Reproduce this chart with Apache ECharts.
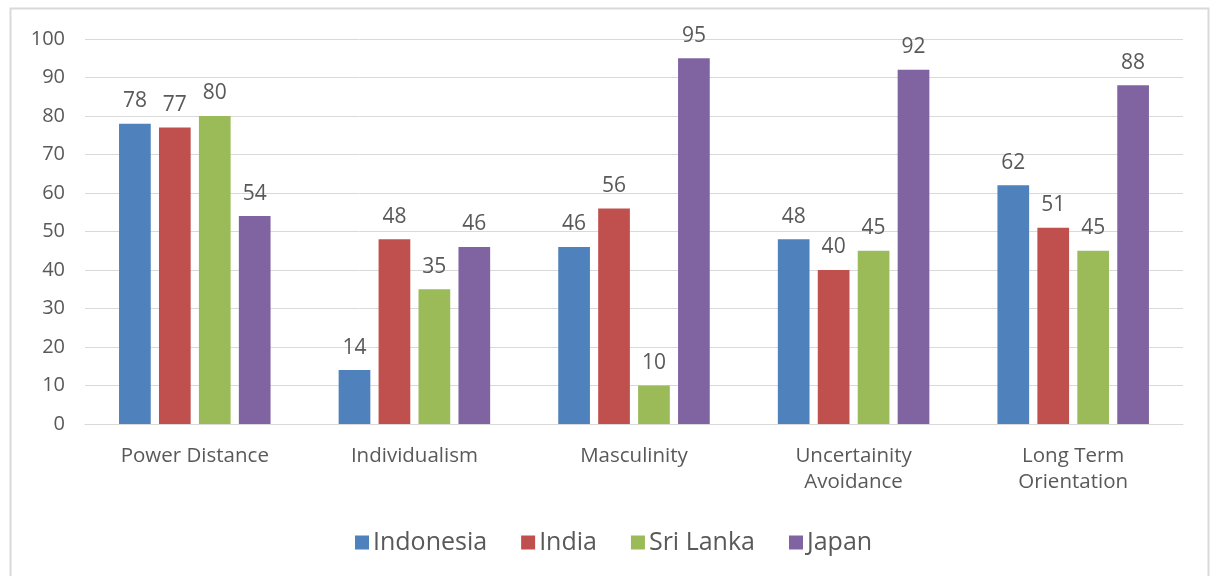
<!DOCTYPE html>
<html>
<head>
<meta charset="utf-8">
<script src="https://cdn.jsdelivr.net/npm/echarts@6/dist/echarts.min.js"></script>
<style>
  html, body { margin: 0; padding: 0; background: #fff; }
  #chart { width: 1216px; height: 576px; }
</style>
</head>
<body>
<div id="chart"></div>
<script>
const categories = ['Power Distance', 'Individualism', 'Masculinity', 'Uncertainity\nAvoidance', 'Long Term\nOrientation'];
const indonesia = [78, 14, 46, 48, 62];
const india = [77, 48, 56, 40, 51];
const sriLanka = [80, 35, 10, 45, 45];
const japan = [54, 46, 95, 92, 88];
const yTicks = [0, 10, 20, 30, 40, 50, 60, 70, 80, 90, 100];

const font = '"Open Sans", "Noto Sans", sans-serif';
const textColor = '#595959';

function bar(name, data, color) {
  return {
    name: name,
    type: 'bar',
    data: data,
    itemStyle: { color: color },
    barGap: '26%',
    barCategoryGap: '31%',
    animation: false,
    label: {
      show: true,
      position: 'top',
      distance: 12,
      fontFamily: font,
      fontSize: 21,
      color: textColor
    }
  };
}

const myChart = echarts.init(document.getElementById('chart'));
myChart.setOption({
  animation: false,
  graphic: [{
    type: 'rect',
    shape: { x: 10.5, y: 8.5, width: 1198, height: 600 },
    style: { fill: 'none', stroke: '#d9d9d9', lineWidth: 2 },
    silent: true
  }],
  grid: { left: 85, right: 33, top: 39, bottom: 152 },
  legend: {
    bottom: 21,
    left: 355,
    padding: 0,
    itemWidth: 14,
    itemHeight: 14,
    itemGap: 34,
    icon: 'rect',
    textStyle: { fontFamily: font, fontSize: 25, color: textColor, padding: [0, 0, 0, -1] },
    data: ['Indonesia', 'India', 'Sri Lanka', 'Japan']
  },
  xAxis: {
    type: 'category',
    data: categories,
    axisLine: { lineStyle: { color: '#d9d9d9' } },
    axisTick: { show: false },
    axisLabel: {
      fontFamily: font,
      fontSize: 20.5,
      color: textColor,
      margin: 19,
      lineHeight: 26
    }
  },
  yAxis: {
    type: 'value',
    min: yTicks[0],
    max: yTicks[yTicks.length - 1],
    interval: 10,
    axisLine: { show: false },
    axisTick: { show: false },
    splitLine: { lineStyle: { color: '#d9d9d9' } },
    axisLabel: { fontFamily: font, fontSize: 20, color: textColor, margin: 20 }
  },
  series: [
    bar('Indonesia', indonesia, '#4f81bd'),
    bar('India', india, '#c0504d'),
    bar('Sri Lanka', sriLanka, '#9bbb59'),
    bar('Japan', japan, '#8064a2')
  ]
});
</script>
</body>
</html>
